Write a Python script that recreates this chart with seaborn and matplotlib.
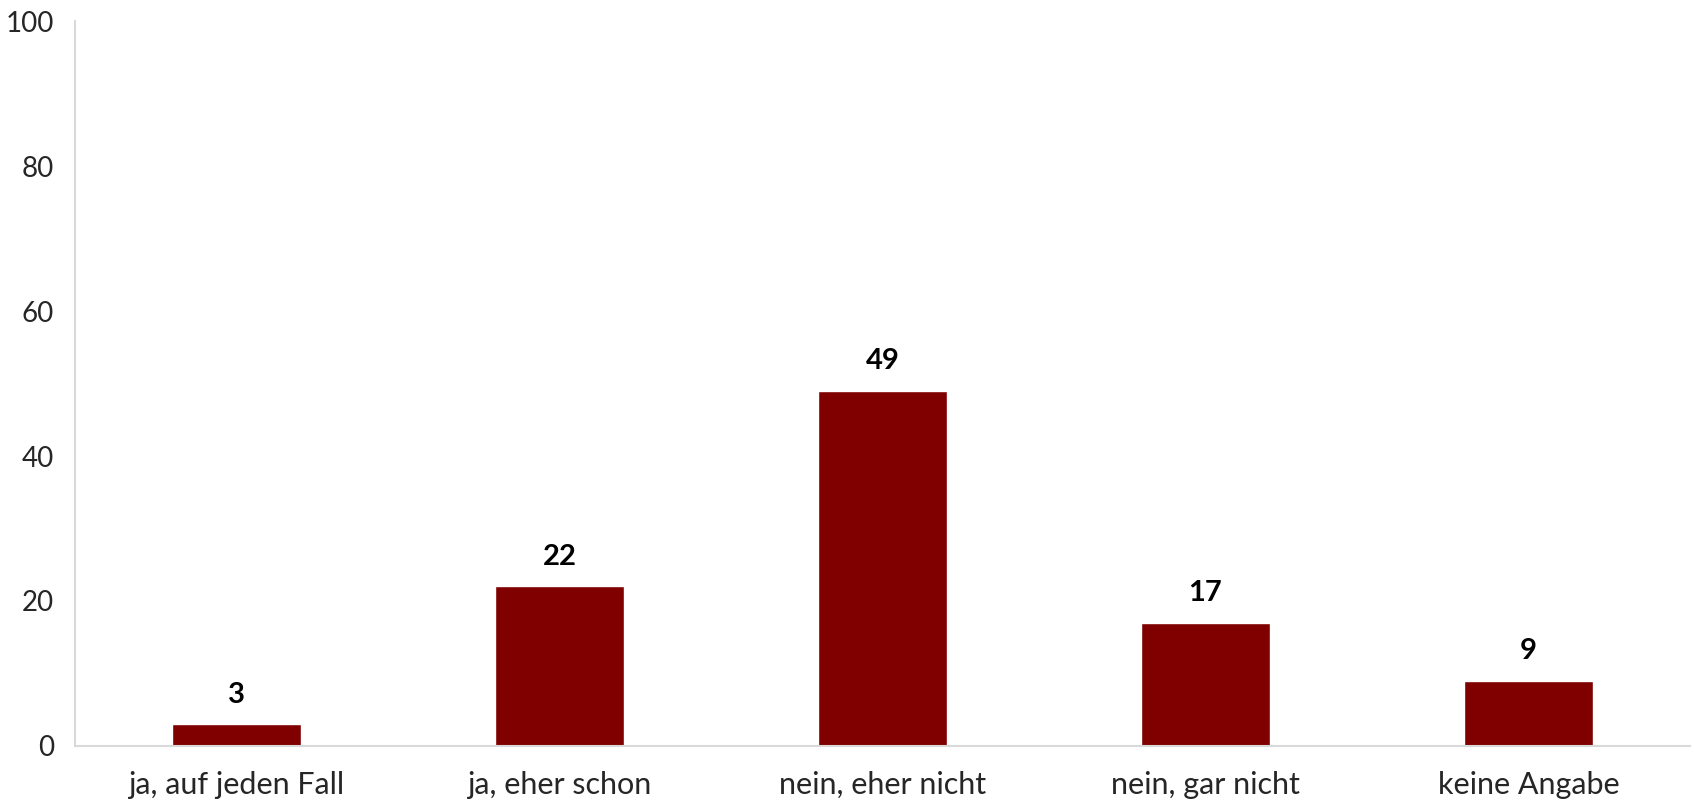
import matplotlib.pyplot as plt
import matplotlib.ticker as mticker
import pandas as pd
import seaborn as sns

categories = ['ja, auf jeden Fall', 'ja, eher schon', 'nein, eher nicht', 'nein, gar nicht', 'keine Angabe']
values = [3, 22, 49, 17, 9]

df = pd.DataFrame({'cat': categories, 'val': values})

sns.set_style('white')
plt.rcParams['font.family'] = ['Lato', 'DejaVu Sans']

fig = plt.figure(figsize=(16.94, 8.05), dpi=100)
ax = fig.add_axes([0.0443, 0.0733, 0.9533, 0.9006])

sns.barplot(data=df, x='cat', y='val', color='#800000', width=0.4, saturation=1, ax=ax)

for i, v in enumerate(values):
    ax.text(i, v + 2.3, str(v), ha='center', va='bottom', fontsize=21, fontweight='bold', color='black')

ax.set_ylim(0, 100)
ax.set_xlim(-0.5, len(categories) - 0.5)
ax.set_yticks([0, 20, 40, 60, 80, 100])
ax.set_xlabel('')
ax.set_ylabel('')

ax.xaxis.set_minor_locator(mticker.FixedLocator([i - 0.5 for i in range(len(categories) + 1)]))
ax.tick_params(axis='x', which='major', length=0, labelsize=22, pad=18)
ax.tick_params(axis='x', which='minor', length=10, color='#d9d9d9', width=1.5)
ax.tick_params(axis='y', length=0, labelsize=20, pad=15)

for s in ['top', 'right']:
    ax.spines[s].set_visible(False)
for s in ['left', 'bottom']:
    ax.spines[s].set_color('#d9d9d9')
    ax.spines[s].set_linewidth(1.5)

fig.savefig('out.png', dpi=100)
